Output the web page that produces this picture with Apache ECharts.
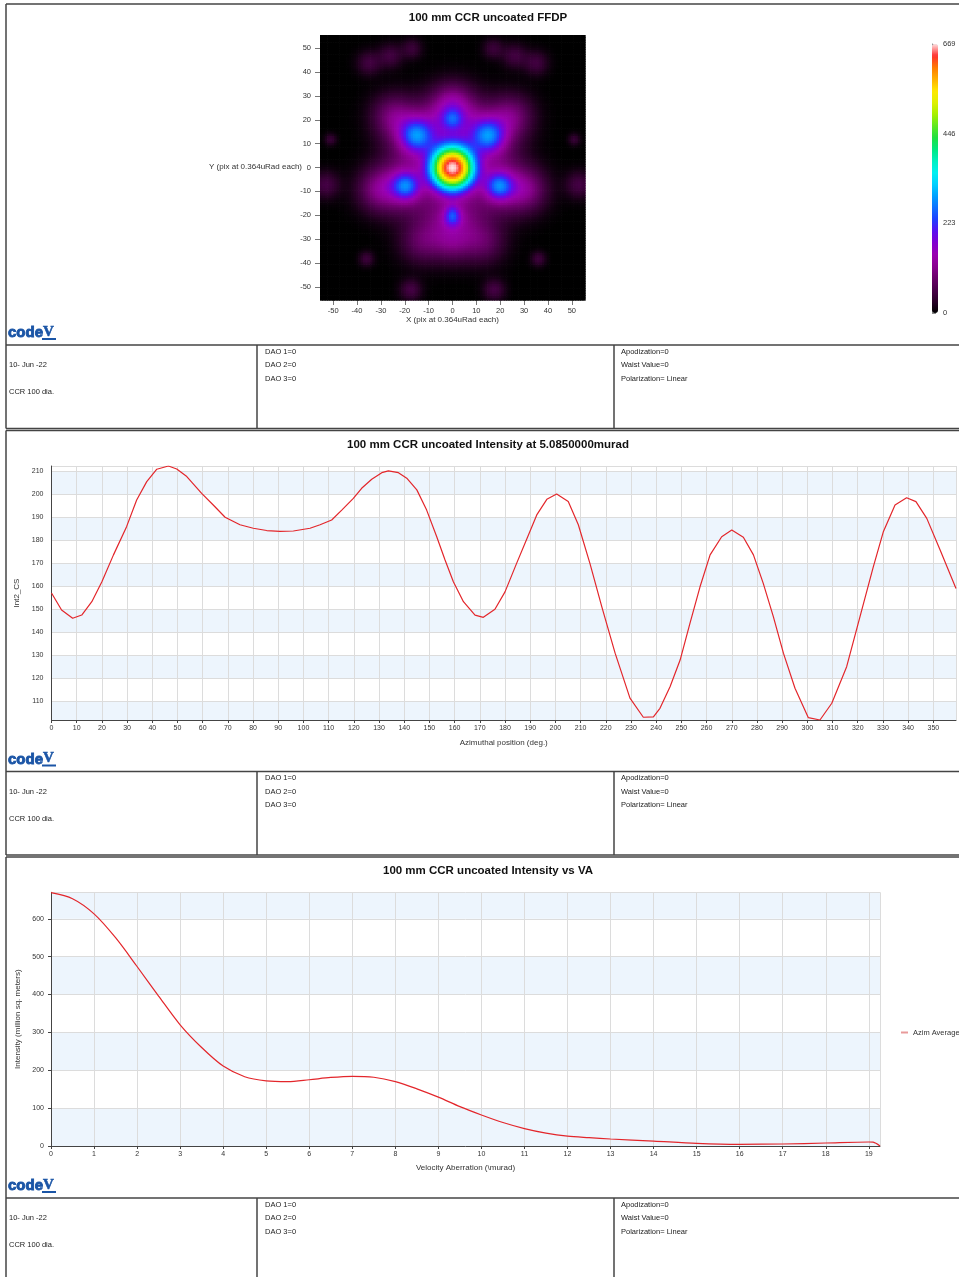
<!DOCTYPE html>
<html>
<head>
<meta charset="utf-8">
<title>100 mm CCR uncoated</title>
<script src="https://cdn.jsdelivr.net/npm/echarts@6/dist/echarts.min.js"></script>
<style>
  html, body { margin: 0; padding: 0; background: #fff; }
  #main { width: 959px; height: 1277px; }
</style>
</head>
<body>
<div id="main"></div>
<script>
var FONT = 'Liberation Sans, Arial, sans-serif';

// --- FFDP (far field diffraction pattern), lobes, pix units
var spotX      = [0,   0,    -15,  15,   -19.5, 19.5, 0,   0,   0,    -15,  15,   -19.5, 19.5, 0,     0,  -25, 25, -31, 31, -13, 13,  0,   -35, 35, -26, 26, -17, 17, -51, 51, -53, 53, -36, 36, -17.5, 17.5];
var spotY      = [0,   20.5, 13.5, 13.5, -7.5,  -7.5, -21, -18, 20.5, 13.5, 13.5, -7.5,  -7.5, -20.5, 28, 22,  22,  -9,  -9,  -31, -31, -32, 44,  44,  47,  47,  50,  50,  12,  12,  -7,  -7,  -38, -38, -51,   -51];
var spotPeak   = [633, 90,   150,  150,  150,   150,  100, 50,  110,  110,  110,  110,   110,  110,   65, 80,  80,  85,  85,  70,  70,  55,  48,  48,  48,  48,  42,  42,  40,  40,  52,  52,  45,  45,  52,    52];
var spotRadius = [9.4, 4.2,  6.5,  6.5,  5.4,   5.4,  3.6, 3,   12,   12,   12,   12,    12,   12,    8,  9,   9,   9,   9,   9,   9,   8,   5,   5,   5,   5,   4.2, 4.2, 2.5, 2.5, 5.7, 5.7, 3.1, 3.1, 4.5,   4.5];
var spotPower  = [2.4, 2,    2,    2,    2,     2,    2,   2,   2,    2,    2,    2,     2,    2,     2,  2,   2,   2,   2,   2,   2,   2,   2,   2,   2,   2,   2,   2,   2,   2,   2,   2,   2,   2,   2,     2];
var ffdpMax = 669;

// --- intensity vs azimuth at 5.085 murad
var azimuth = [0, 4, 8.4, 12, 16, 20, 24.6, 29.8, 33.8, 37.8, 41.8, 46.4, 49.7, 53.7, 59.6, 64.2, 68.9, 74.8, 80.1, 85.4, 90.7, 96, 102.6, 106.6, 111.2, 115.2, 119.8, 123.1, 127.1, 131.1, 133.7, 137.7, 141, 145, 148.9, 152.9, 156.2, 159.5, 163.5, 168.1, 171.4, 176, 180, 184.6, 189.3, 192.6, 196.6, 200.5, 205.1, 209.1, 213.7, 218.4, 223.7, 229.6, 234.9, 238.9, 241.5, 245.5, 249.5, 253.4, 257.4, 261.4, 266, 270, 274.6, 278.6, 282.5, 286.5, 290.5, 295.1, 300.4, 305, 309.7, 315.6, 320.9, 326.2, 330.2, 334.8, 339.4, 343.1, 347.4, 352.7, 359];
var int2cs  = [157, 149.6, 146, 147.4, 153.2, 161.9, 173.6, 185.9, 197.5, 205.5, 210.9, 212.3, 211, 207.7, 200.4, 195.3, 190, 186.7, 185.2, 184.2, 183.8, 184, 185.2, 186.7, 188.8, 193.1, 198.2, 202.6, 206.5, 209.4, 210.2, 209.4, 207, 201.9, 193.1, 181.5, 171.4, 161.9, 153.2, 147.4, 146.4, 149.9, 157.5, 169.9, 182.3, 191, 197.8, 200.1, 196.8, 186.7, 169.9, 151.1, 130.8, 111.2, 102.9, 103.1, 106.8, 116.2, 127.8, 143.8, 159.7, 173.6, 181.5, 184.4, 181.3, 173.6, 161.2, 146.7, 130.8, 115.5, 102.7, 101.7, 109, 124.9, 146.7, 168.5, 183.8, 195.3, 198.5, 196.8, 189.5, 175.7, 159];

// --- intensity vs velocity aberration
var vaMurad     = [0, 0.5, 1, 1.5, 2, 2.5, 3, 3.5, 4, 4.5, 5, 5.5, 6, 6.5, 7, 7.5, 8, 8.5, 9, 9.5, 10, 10.5, 11, 11.5, 12, 12.5, 13, 14, 15, 16, 17, 18, 19, 19.1, 19.26];
var azimAverage = [669, 653, 613, 550, 474, 396, 320, 260, 211, 183, 172, 170, 175, 181, 184, 181.5, 170, 151, 129, 104, 82, 62, 46, 34, 26, 22, 18.5, 13, 7, 4.5, 5.3, 7.9, 10.6, 10, 0];

var chartTitles = ['100 mm CCR uncoated FFDP', '100 mm CCR uncoated Intensity at 5.0850000murad', '100 mm CCR uncoated Intensity vs VA'];
var infoDate = '10- Jun -22';
var infoName = 'CCR 100 dia.';
var daoLines = ['DAO 1=0', 'DAO 2=0', 'DAO 3=0'];
var beamLines = ['Apodization=0', 'Waist Value=0', 'Polarization= Linear'];

var pixCoords = [];
for (var p = -55; p <= 55; p++) pixCoords.push(String(p));

var ffdp = [];
for (var i = 0; i < pixCoords.length; i++) {
  for (var j = 0; j < pixCoords.length; j++) {
    var px = +pixCoords[i], py = +pixCoords[j], v = 0;
    for (var k = 0; k < spotX.length; k++) {
      var d = Math.sqrt((px - spotX[k]) * (px - spotX[k]) + (py - spotY[k]) * (py - spotY[k])) / spotRadius[k];
      v += spotPeak[k] * Math.exp(-Math.pow(d, spotPower[k]));
    }
    ffdp.push([i, j, Math.min(Math.round(v), ffdpMax)]);
  }
}

function everyTen(index, value) { return Number(value) % 10 === 0; }

// page furniture: borders, info tables, logos, titles
var gfx = [];
function rule(x1, y1, x2, y2) {
  gfx.push({type: 'line', silent: true, shape: {x1: x1, y1: y1, x2: x2, y2: y2}, style: {stroke: '#444', lineWidth: 1.5}});
}
function txt(x, y, t, font, color, align, extra) {
  var st = {text: t, font: font, fill: color || '#222', textAlign: align || 'left', textVerticalAlign: 'middle'};
  if (extra) { st.stroke = color; st.lineWidth = extra; }
  gfx.push({type: 'text', silent: true, x: x, y: y, style: st});
}
var panelTop = [4, 430.5, 857];
panelTop.forEach(function (T, n) {
  rule(6, T, 959, T);
  rule(6, T, 6, T + 424.5);
  rule(6, T + 341, 959, T + 341);
  rule(6, T + 424.5, 959, T + 424.5);
  rule(257, T + 341, 257, T + 424.5);
  rule(614, T + 341, 614, T + 424.5);
  txt(9, T + 361, infoDate, '7.5px ' + FONT);
  txt(9, T + 388, infoName, '7.5px ' + FONT);
  daoLines.forEach(function (s, r) { txt(265, T + 347.5 + r * 13.5, s, '7.5px ' + FONT); });
  beamLines.forEach(function (s, r) { txt(621, T + 347.5 + r * 13.5, s, '7.5px ' + FONT); });
  txt(488, T + 14, chartTitles[n], 'bold 11.5px ' + FONT, '#111', 'center');
  // code V logo
  txt(8, T + 329, 'code', 'bold 15px ' + FONT, '#1b55a6', 'left', 0.9);
  txt(43, T + 328, 'V', 'bold 15px Liberation Serif, serif', '#1b55a6', 'left', 0.6);
  gfx.push({type: 'rect', silent: true, shape: {x: 42, y: T + 334, width: 14, height: 2}, style: {fill: '#1b55a6'}});
});
txt(302, 167, 'Y (pix at 0.364uRad each)', '8px ' + FONT, '#333', 'right');

var axisText = {fontSize: 7, color: '#333', fontFamily: FONT};
var nameText = {fontSize: 8, color: '#333', fontFamily: FONT};
var bands = {show: true, areaStyle: {color: ['#edf5fd', '#ffffff']}};
var grid = {show: true, lineStyle: {color: '#dcdcdc'}};
var axLine = {show: true, lineStyle: {color: '#444'}};

var option = {
  animation: false,
  graphic: gfx,
  grid: [
    {left: 320, top: 35, width: 265, height: 265},
    {left: 932, top: 44, width: 6, height: 269},
    {left: 51.5, top: 466, width: 904.5, height: 254},
    {left: 51, top: 892.3, width: 829, height: 253.7}
  ],
  xAxis: [
    {gridIndex: 0, type: 'category', data: pixCoords, axisLine: {show: false},
     axisTick: {show: true, length: 5, alignWithLabel: true, interval: everyTen, lineStyle: {color: '#777'}},
     axisLabel: {interval: everyTen, margin: 7, fontSize: 7.5, color: '#333', fontFamily: FONT},
     name: 'X (pix at 0.364uRad each)', nameLocation: 'middle', nameGap: 16, nameTextStyle: nameText},
    {gridIndex: 1, type: 'value', show: false, min: 0, max: 1},
    {gridIndex: 2, type: 'value', min: 0, max: 359, interval: 10,
     axisLine: axLine, axisTick: {show: true, length: 3, lineStyle: {color: '#444'}},
     axisLabel: Object.assign({margin: 5, showMaxLabel: false}, axisText), splitLine: grid,
     name: 'Azimuthal position (deg.)', nameLocation: 'middle', nameGap: 19, nameTextStyle: nameText},
    {gridIndex: 3, type: 'value', min: 0, max: 19.26, interval: 1,
     axisLine: axLine, axisTick: {show: true, length: 3, lineStyle: {color: '#444'}},
     axisLabel: Object.assign({margin: 5, showMaxLabel: false}, axisText), splitLine: grid,
     name: 'Velocity Aberration (\\murad)', nameLocation: 'middle', nameGap: 18, nameTextStyle: nameText}
  ],
  yAxis: [
    {gridIndex: 0, type: 'category', data: pixCoords, axisLine: {show: false},
     axisTick: {show: true, length: 5, alignWithLabel: true, interval: everyTen, lineStyle: {color: '#777'}},
     axisLabel: {interval: everyTen, margin: 9, fontSize: 7.5, color: '#333', fontFamily: FONT}},
    {gridIndex: 1, type: 'value', position: 'right', min: 0, max: 669, interval: 223,
     axisLine: {show: true, lineStyle: {color: '#888'}}, axisTick: {show: true, length: 4, lineStyle: {color: '#888'}},
     axisLabel: {margin: 5, fontSize: 7.5, color: '#333', fontFamily: FONT}, splitLine: {show: false}},
    {gridIndex: 2, type: 'value', min: 101.7, max: 212.3, splitNumber: 11,
     axisLine: axLine, axisTick: {show: false},
     axisLabel: Object.assign({margin: 8, showMinLabel: false, showMaxLabel: false}, axisText),
     splitLine: grid, splitArea: bands,
     name: 'Int2_CS', nameLocation: 'middle', nameGap: 28, nameTextStyle: nameText},
    {gridIndex: 3, type: 'value', min: 0, max: 670, interval: 100,
     axisLine: axLine, axisTick: {show: true, length: 3, lineStyle: {color: '#444'}},
     axisLabel: Object.assign({margin: 7, showMaxLabel: false}, axisText),
     splitLine: grid, splitArea: bands,
     name: 'Intensity (million sq. meters)', nameLocation: 'middle', nameGap: 26, nameTextStyle: nameText}
  ],
  visualMap: {
    type: 'continuous', seriesIndex: 0, dimension: 2, min: 0, max: 669, calculable: false, hoverLink: false,
    left: 932, top: 44, itemWidth: 6, itemHeight: 269, padding: 0, text: null, showLabel: false,
    inRange: {color: ['#000000', '#2a0028', '#4a004a', '#6a006a', '#8a0090', '#9a00b0', '#8000d0', '#5a10f0',
      '#2040ff', '#1070ff', '#00a0ff', '#00d0ff', '#00f0f0', '#00f0c0', '#00e880', '#20e040', '#60e820',
      '#a8f000', '#e0f000', '#ffe800', '#ffb000', '#ff7a00', '#ff3030', '#ffe0e0']}
  },
  legend: {
    left: 901, top: 1028.5, padding: 0, itemWidth: 7, itemHeight: 2,
    textStyle: {fontSize: 7.5, color: '#333', fontFamily: FONT},
    data: [{name: 'Azim Average', icon: 'rect', itemStyle: {color: '#e89a9a'}}]
  },
  series: [
    {type: 'custom', name: 'FFDP', xAxisIndex: 0, yAxisIndex: 0, data: ffdp, progressive: 0, silent: true,
     encode: {x: 0, y: 1},
     renderItem: function (params, api) {
       var c = api.coord([api.value(0), api.value(1)]);
       var s = api.size([1, 1]);
       return {type: 'rect', shape: {x: c[0] - s[0] / 2, y: c[1] - s[1] / 2, width: s[0] + 0.7, height: s[1] + 0.7},
         style: {fill: api.visual('color')}};
     }},
    {type: 'line', name: 'colorbar', xAxisIndex: 1, yAxisIndex: 1, data: [], silent: true},
    {type: 'line', name: 'Int2_CS', xAxisIndex: 2, yAxisIndex: 2, symbol: 'none',
     lineStyle: {color: '#e3262b', width: 1.2}, itemStyle: {color: '#e3262b'},
     data: azimuth.map(function (a, n) { return [a, int2cs[n]]; })},
    {type: 'line', name: 'Azim Average', xAxisIndex: 3, yAxisIndex: 3, symbol: 'none', smooth: 0.3,
     lineStyle: {color: '#e3262b', width: 1.2}, itemStyle: {color: '#e3262b'},
     data: vaMurad.map(function (a, n) { return [a, azimAverage[n]]; })}
  ]
};

var chart = echarts.init(document.getElementById('main'));
chart.setOption(option);
</script>
</body>
</html>
